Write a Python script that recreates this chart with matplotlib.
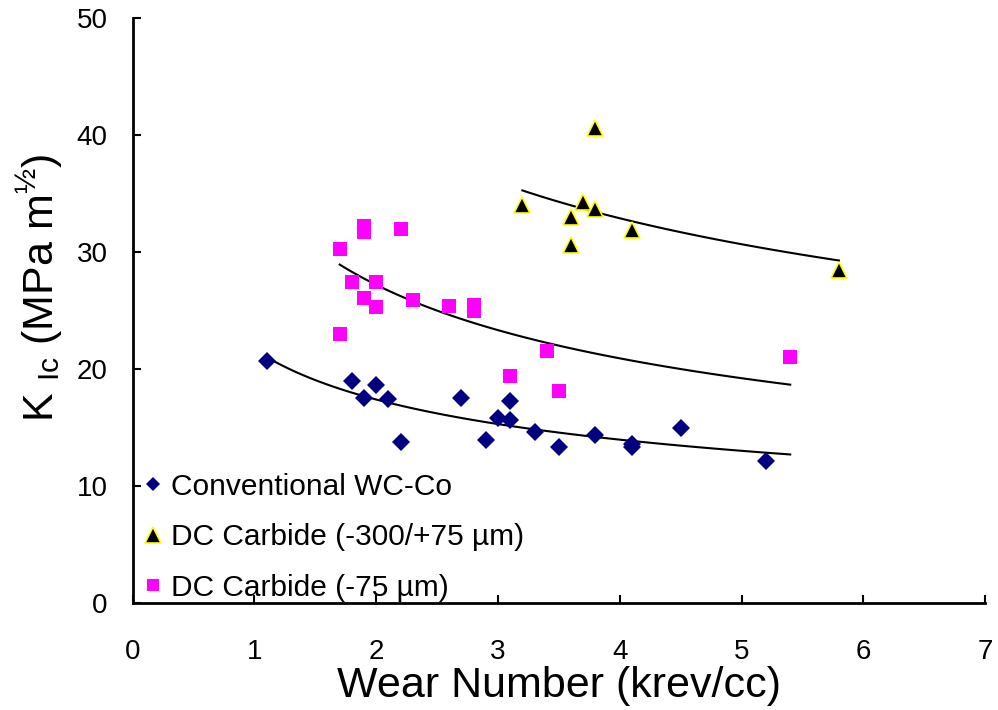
import numpy as np
import matplotlib.pyplot as plt

plt.rcParams['font.family'] = ['Liberation Sans', 'DejaVu Sans']

# Conventional WC-Co
conv_x = [1.1, 1.8, 1.9, 2.0, 2.1, 2.2, 2.7, 2.9, 3.0, 3.1, 3.1, 3.3, 3.5, 3.8, 4.1, 4.1, 4.5, 5.2]
conv_y = [20.7, 19.0, 17.5, 18.6, 17.4, 13.8, 17.5, 13.9, 15.8, 15.6, 17.3, 14.6, 13.3, 14.4, 13.6, 13.3, 15.0, 12.1]

# DC Carbide (-300/+75 um)
coarse_x = [3.2, 3.6, 3.6, 3.7, 3.8, 3.8, 4.1, 5.8]
coarse_y = [34.0, 33.0, 30.6, 34.3, 33.7, 40.6, 31.9, 28.5]

# DC Carbide (-75 um)
fine_x = [1.7, 1.7, 1.8, 1.9, 1.9, 1.9, 2.0, 2.0, 2.2, 2.3, 2.6, 2.8, 2.8, 3.1, 3.4, 3.5, 5.4]
fine_y = [30.3, 23.0, 27.4, 32.2, 31.7, 26.1, 27.4, 25.3, 32.0, 25.9, 25.4, 25.5, 25.0, 19.4, 21.5, 18.1, 21.0]

# trend line ranges (x start, x end)
conv_range = [1.1, 5.4]
coarse_range = [3.2, 5.8]
fine_range = [1.7, 5.4]


def power_fit(x, y, xr):
    # power trendline y = a*x^b, fitted in log space
    b, lna = np.polyfit(np.log(x), np.log(y), 1)
    xs = np.linspace(xr[0], xr[1], 100)
    return xs, np.exp(lna) * xs ** b


fig = plt.figure(figsize=(9.98, 7.10), dpi=100)
ax = fig.add_axes([0.133, 0.1507, 0.854, 0.8239])

ax.plot(conv_x, conv_y, 'D', color='#000080', markersize=9, markeredgewidth=0,
        label='Conventional WC-Co', zorder=3)
ax.plot(coarse_x, coarse_y, '^', color='black', markeredgecolor='#FFFF00', markersize=12,
        markeredgewidth=1.2, label='DC Carbide (-300/+75 µm)', zorder=3)
ax.plot(fine_x, fine_y, 's', color='#FF00FF', markersize=10, markeredgewidth=0,
        label='DC Carbide (-75 µm)', zorder=3)

for xs, ys, xr in [(conv_x, conv_y, conv_range), (coarse_x, coarse_y, coarse_range), (fine_x, fine_y, fine_range)]:
    fx, fy = power_fit(xs, ys, xr)
    ax.plot(fx, fy, color='black', linewidth=1.5, zorder=2)

ax.set_xlim(0, 7)
ax.set_ylim(0, 50)
ax.set_xticks(range(0, 8))
ax.set_yticks(range(0, 51, 10))
ax.tick_params(direction='in', length=6, width=1.5, labelsize=20)
ax.tick_params(axis='x', pad=26)
ax.tick_params(axis='y', pad=18)
for s in ['top', 'right']:
    ax.spines[s].set_visible(False)
for s in ['left', 'bottom']:
    ax.spines[s].set_linewidth(2)

ax.set_xlabel('Wear Number (krev/cc)', fontsize=31)
ax.xaxis.set_label_coords(0.5, -0.108)
ax.set_ylabel(r'K $_{\mathregular{Ic}}$ (MPa m$^{\mathregular{½}}$)', fontsize=31)
ax.yaxis.set_label_coords(-0.080, 0.538)

leg = ax.legend(loc='upper left', bbox_to_anchor=(0.01, 0.223), frameon=False, fontsize=21.5,
                handlelength=0.8, handletextpad=0.2, labelspacing=0.76,
                borderaxespad=0, borderpad=0)
for h, ms in zip(leg.legend_handles, [7, 11, 9]):
    h.set_markersize(ms)

fig.savefig('out.png', dpi=100)
